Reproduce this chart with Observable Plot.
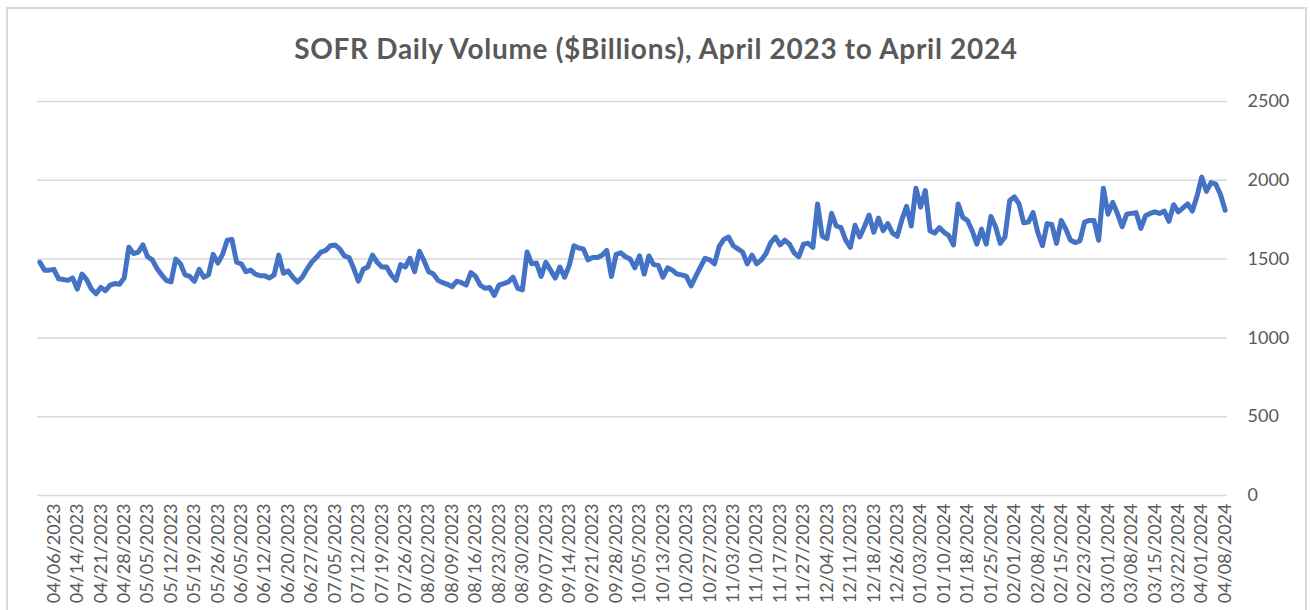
<!DOCTYPE html>
<html>
<head>
<meta charset="utf-8">
<script src="https://cdn.jsdelivr.net/npm/d3@7"></script>
<script src="https://cdn.jsdelivr.net/npm/@observablehq/plot@0.6"></script>
<style>
  html, body { margin: 0; padding: 0; background: #fff; overflow: hidden; }
  #wrap { position: relative; width: 1310px; height: 610px; font-family: Lato, "Open Sans", sans-serif; }
  #frame { position: absolute; left: 6px; top: 7px; width: 1301px; height: 640px; border: 2px solid #d9d9d9; box-sizing: border-box; }
  #title { position: absolute; left: 0; top: 34px; width: 1312px; text-align: center; font-size: 28px; line-height: 28px; font-weight: 700; letter-spacing: 0.7px; color: #595959; }
  #chart { position: absolute; left: 0; top: 0; }
</style>
</head>
<body>
<div id="wrap">
  <div id="frame"></div>
  <div id="chart"></div>
  <div id="title">SOFR Daily Volume ($Billions), April 2023 to April 2024</div>
</div>
<script>
// Daily SOFR volume ($ billions), business days 04/03/2023 .. 04/08/2024
const volume = [
  1480, 1430, 1430, 1435, 1375, 1370, 1365, 1380, 1310, 1405,
  1370, 1310, 1280, 1320, 1300, 1335, 1345, 1340, 1380, 1575,
  1535, 1545, 1590, 1515, 1495, 1440, 1400, 1365, 1355, 1500,
  1470, 1400, 1390, 1360, 1435, 1385, 1400, 1530, 1475, 1530,
  1620, 1625, 1480, 1470, 1420, 1430, 1405, 1395, 1395, 1380,
  1400, 1525, 1410, 1425, 1385, 1355, 1385, 1435, 1480, 1510,
  1545, 1555, 1585, 1590, 1565, 1520, 1510, 1440, 1360, 1435,
  1450, 1525, 1480, 1450, 1450, 1400, 1365, 1465, 1450, 1505,
  1420, 1550, 1490, 1420, 1405, 1365, 1350, 1340, 1325, 1360,
  1350, 1335, 1415, 1390, 1335, 1315, 1320, 1270, 1335, 1345,
  1355, 1385, 1315, 1305, 1545, 1470, 1475, 1390, 1480, 1430,
  1380, 1450, 1385, 1460, 1585, 1570, 1565, 1495, 1510, 1510,
  1525, 1555, 1390, 1530, 1540, 1515, 1500, 1445, 1520, 1405,
  1520, 1465, 1460, 1385, 1445, 1430, 1405, 1400, 1390, 1330,
  1390, 1450, 1505, 1495, 1470, 1580, 1625, 1640, 1585, 1565,
  1545, 1470, 1525, 1470, 1495, 1535, 1605, 1640, 1590, 1620,
  1595, 1540, 1515, 1595, 1600, 1575, 1850, 1645, 1630, 1790,
  1710, 1700, 1620, 1575, 1715, 1640, 1705, 1780, 1670, 1760,
  1680, 1725, 1665, 1645, 1750, 1835, 1710, 1950, 1830, 1935,
  1680, 1665, 1700, 1670, 1650, 1590, 1850, 1765, 1745, 1680,
  1595, 1690, 1595, 1770, 1705, 1600, 1640, 1870, 1895, 1850,
  1730, 1735, 1795, 1670, 1585, 1725, 1720, 1600, 1745, 1690,
  1620, 1605, 1615, 1735, 1745, 1745, 1620, 1950, 1785, 1860,
  1790, 1705, 1785, 1790, 1795, 1695, 1775, 1790, 1800, 1790,
  1805, 1740, 1845, 1800, 1825, 1850, 1805, 1900, 2020, 1930,
  1985, 1975, 1910, 1810
];

// Category labels shown on the axis (every 5th business day, starting at the 4th point)
const tickLabels = [
  "04/06/2023","04/14/2023","04/21/2023","04/28/2023","05/05/2023","05/12/2023",
  "05/19/2023","05/26/2023","06/05/2023","06/12/2023","06/20/2023","06/27/2023",
  "07/05/2023","07/12/2023","07/19/2023","07/26/2023","08/02/2023","08/09/2023",
  "08/16/2023","08/23/2023","08/30/2023","09/07/2023","09/14/2023","09/21/2023",
  "09/28/2023","10/05/2023","10/13/2023","10/20/2023","10/27/2023","11/03/2023",
  "11/10/2023","11/17/2023","11/27/2023","12/04/2023","12/11/2023","12/18/2023",
  "12/26/2023","01/03/2024","01/10/2024","01/18/2024","01/25/2024","02/01/2024",
  "02/08/2024","02/15/2024","02/23/2024","03/01/2024","03/08/2024","03/15/2024",
  "03/22/2024","04/01/2024","04/08/2024"
];
const firstLabelIndex = 3;
const labelStep = 5;
const yTicks = [0, 500, 1000, 1500, 2000, 2500];

const tickIdx = tickLabels.map((_, k) => firstLabelIndex + k * labelStep);
const labelOf = new Map(tickIdx.map((idx, k) => [idx, tickLabels[k]]));
const rows = volume.map((v, i) => ({i, v}));

const chart = Plot.plot({
  width: 1310,
  height: 610,
  marginTop: 101,
  marginBottom: 115,
  marginLeft: 37,
  marginRight: 83,
  style: {fontFamily: "Lato, 'Open Sans', sans-serif", fontSize: "18px", color: "#595959", background: "transparent", overflow: "visible"},
  x: {type: "linear", domain: [-0.5, volume.length - 0.5], axis: null, label: null},
  y: {domain: [0, 2500], axis: null, label: null},
  marks: [
    Plot.gridY(yTicks, {stroke: "#d9d9d9", strokeOpacity: 1, strokeWidth: 1.5}),
    Plot.axisY(yTicks, {anchor: "right", label: null, tickSize: 0, tickPadding: 20, textAnchor: "start", tickFormat: d => String(d), fill: "#595959", fontSize: 18}),
    Plot.axisX(tickIdx, {anchor: "bottom", label: null, tickSize: 0, tickPadding: 8, tickRotate: -90, tickFormat: d => labelOf.get(d), fill: "#595959", fontSize: 18}),
    Plot.lineY(rows, {x: "i", y: "v", stroke: "#4472C4", strokeWidth: 5, strokeLinejoin: "round", strokeLinecap: "round"})
  ]
});
document.getElementById("chart").appendChild(chart);
</script>
</body>
</html>
